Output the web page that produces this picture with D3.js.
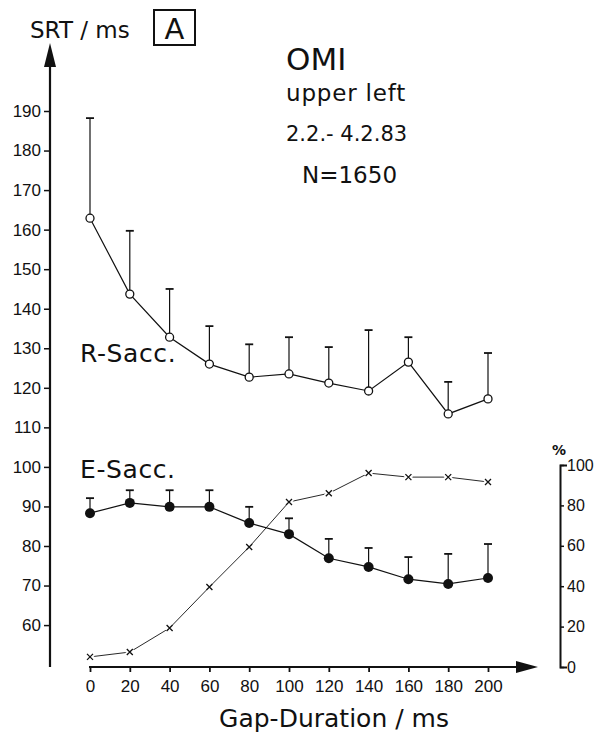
<!DOCTYPE html>
<html>
<head>
<meta charset="utf-8">
<script src="https://cdn.jsdelivr.net/npm/d3@7"></script>
<style>
  body { margin: 0; background: #fff; }
  text { font-family: "DejaVu Sans", sans-serif; fill: #111; }
  .tick text { font-family: "Liberation Sans", Arial, sans-serif; }
</style>
</head>
<body>
<div id="chart"></div>
<script>
let gaps = [0, 20, 40, 60, 80, 100, 120, 140, 160, 180, 200];
let rMean = [162.9, 143.7, 132.8, 126.0, 122.7, 123.5, 121.2, 119.2, 126.5, 113.4, 117.2];
let rTop = [188.2, 159.7, 145.0, 135.6, 131.0, 132.8, 130.3, 134.6, 132.8, 121.5, 128.8];
let eMean = [88.3, 90.9, 89.9, 89.9, 85.8, 83.0, 76.9, 74.7, 71.6, 70.4, 71.9];
let eTop = [92.1, 94.1, 94.1, 94.1, 89.9, 87.0, 81.8, 79.5, 77.2, 78.0, 80.5];
let pct = [5, 7.4, 19.3, 39.6, 59.4, 81.7, 86, 96, 94, 94, 91.6];
let srtTicks = [60, 70, 80, 90, 100, 110, 120, 130, 140, 150, 160, 170, 180, 190];
let pctTicks = [0, 20, 40, 60, 80, 100];

let width = 597, height = 732;

let svg = d3.select('#chart')
  .append('svg')
    .attr('width', width)
    .attr('height', height);

// scales
let x = d3.scaleLinear().domain([0, 200]).range([90, 488]);
let y = d3.scaleLinear().domain([49.4, 190]).range([667, 111]);
let yp = d3.scaleLinear().domain([0, 100]).range([667, 465]);

// left axis with arrow
let leftX = 50;
svg.append('line')
  .attr('x1', leftX).attr('x2', leftX)
  .attr('y1', 60).attr('y2', 667)
  .attr('stroke', '#111').attr('stroke-width', 2.2);
svg.append('path')
  .attr('d', 'M' + leftX + ',43 L' + (leftX - 6) + ',67 L' + (leftX + 6) + ',67 Z')
  .attr('fill', '#111');

let yAxis = svg.append('g')
  .attr('transform', 'translate(' + leftX + ',0)')
  .call(d3.axisLeft(y).tickValues(srtTicks).tickSize(6).tickPadding(3));
yAxis.select('.domain').remove();
yAxis.selectAll('line').attr('stroke', '#111').attr('stroke-width', 1.5);
yAxis.selectAll('text').style('font-size', '17px').attr('fill', '#111');

// bottom axis with arrow
let xAxis = svg.append('g')
  .attr('transform', 'translate(0,667)')
  .call(d3.axisBottom(x).tickValues(gaps).tickSize(5).tickPadding(8));
xAxis.select('.domain').remove();
xAxis.selectAll('line').attr('stroke', '#111').attr('stroke-width', 1.8);
xAxis.selectAll('text').style('font-size', '17px').attr('fill', '#111');
svg.append('line')
  .attr('x1', x(0) - 1).attr('x2', 520)
  .attr('y1', 667).attr('y2', 667)
  .attr('stroke', '#111').attr('stroke-width', 2.2);
svg.append('path')
  .attr('d', 'M538,667 L516,661 L516,673 Z')
  .attr('fill', '#111');

// right percent axis
let pAxis = svg.append('g')
  .attr('transform', 'translate(560,0)')
  .call(d3.axisRight(yp).tickValues(pctTicks).tickSize(4).tickSizeOuter(7).tickPadding(3));
pAxis.select('.domain').attr('stroke', '#111').attr('stroke-width', 2);
pAxis.selectAll('line').attr('stroke', '#111').attr('stroke-width', 1.5);
pAxis.selectAll('text').style('font-size', '16px').attr('fill', '#111');
svg.append('text')
  .attr('x', 552).attr('y', 455)
  .style('font-size', '14px').style('font-weight', 'bold')
  .text('%');

// error bars (upper side only)
function errorBars(means, tops) {
  let g = svg.append('g');
  gaps.forEach(function(d, i) {
    g.append('line')
      .attr('x1', x(d)).attr('x2', x(d))
      .attr('y1', y(means[i])).attr('y2', y(tops[i]))
      .attr('stroke', '#111').attr('stroke-width', 1.2);
    g.append('line')
      .attr('x1', x(d) - 4).attr('x2', x(d) + 4)
      .attr('y1', y(tops[i])).attr('y2', y(tops[i]))
      .attr('stroke', '#111').attr('stroke-width', 1.8);
  });
}
errorBars(rMean, rTop);
errorBars(eMean, eTop);

// connecting lines
let line = d3.line()
  .x(function(d) { return x(d[0]); })
  .y(function(d) { return y(d[1]); });
svg.append('path')
  .datum(d3.zip(gaps, rMean))
  .attr('d', line)
  .attr('fill', 'none').attr('stroke', '#111').attr('stroke-width', 1.2);
svg.append('path')
  .datum(d3.zip(gaps, eMean))
  .attr('d', line)
  .attr('fill', 'none').attr('stroke', '#111').attr('stroke-width', 1.2);

let pLine = d3.line()
  .x(function(d) { return x(d[0]); })
  .y(function(d) { return yp(d[1]); });
svg.append('path')
  .datum(d3.zip(gaps, pct))
  .attr('d', pLine)
  .attr('fill', 'none').attr('stroke', '#111').attr('stroke-width', 0.9);

// markers
svg.selectAll('.rdot').data(d3.zip(gaps, rMean)).enter()
  .append('circle')
    .attr('class', 'rdot')
    .attr('cx', function(d) { return x(d[0]); })
    .attr('cy', function(d) { return y(d[1]); })
    .attr('r', 4)
    .attr('fill', '#fff').attr('stroke', '#111').attr('stroke-width', 1.3);
svg.selectAll('.edot').data(d3.zip(gaps, eMean)).enter()
  .append('circle')
    .attr('class', 'edot')
    .attr('cx', function(d) { return x(d[0]); })
    .attr('cy', function(d) { return y(d[1]); })
    .attr('r', 5)
    .attr('fill', '#111');

let cross = function(d) {
  let cx = x(d[0]), cy = yp(d[1]), s = 3;
  return 'M' + (cx - s) + ',' + (cy - s) + 'L' + (cx + s) + ',' + (cy + s) +
    'M' + (cx - s) + ',' + (cy + s) + 'L' + (cx + s) + ',' + (cy - s);
};
svg.selectAll('.pbg').data(d3.zip(gaps, pct)).enter()
  .append('path')
    .attr('class', 'pbg')
    .attr('d', cross)
    .attr('fill', 'none').attr('stroke', '#fff').attr('stroke-width', 5);
svg.selectAll('.pmark').data(d3.zip(gaps, pct)).enter()
  .append('path')
    .attr('class', 'pmark')
    .attr('d', cross)
    .attr('fill', 'none').attr('stroke', '#111').attr('stroke-width', 1.3);

// series labels
svg.append('text').attr('x', 80).attr('y', 362)
  .style('font-size', '25px').style('letter-spacing', '0.6px').text('R-Sacc.');
svg.append('text').attr('x', 80).attr('y', 478)
  .style('font-size', '25px').style('letter-spacing', '0.6px').text('E-Sacc.');

// header texts
svg.append('text').attr('x', 30).attr('y', 38)
  .style('font-size', '23px').text('SRT / ms');
svg.append('rect')
  .attr('x', 154).attr('y', 10).attr('width', 41).attr('height', 35)
  .attr('fill', 'none').attr('stroke', '#111').attr('stroke-width', 2);
svg.append('text').attr('x', 174.5).attr('y', 39)
  .style('font-size', '29px').style('text-anchor', 'middle').text('A');

svg.append('text').attr('x', 286).attr('y', 70)
  .style('font-size', '31px').text('OMI');
svg.append('text').attr('x', 286).attr('y', 101)
  .style('font-size', '23px').style('letter-spacing', '0.8px').text('upper left');
svg.append('text').attr('x', 286).attr('y', 141)
  .style('font-size', '21px').text('2.2.- 4.2.83');
svg.append('text').attr('x', 302).attr('y', 183)
  .style('font-size', '23px').text('N=1650');

// x axis title
svg.append('text').attr('x', 334).attr('y', 727)
  .style('font-size', '25px').style('text-anchor', 'middle')
  .text('Gap-Duration / ms');
</script>
</body>
</html>
